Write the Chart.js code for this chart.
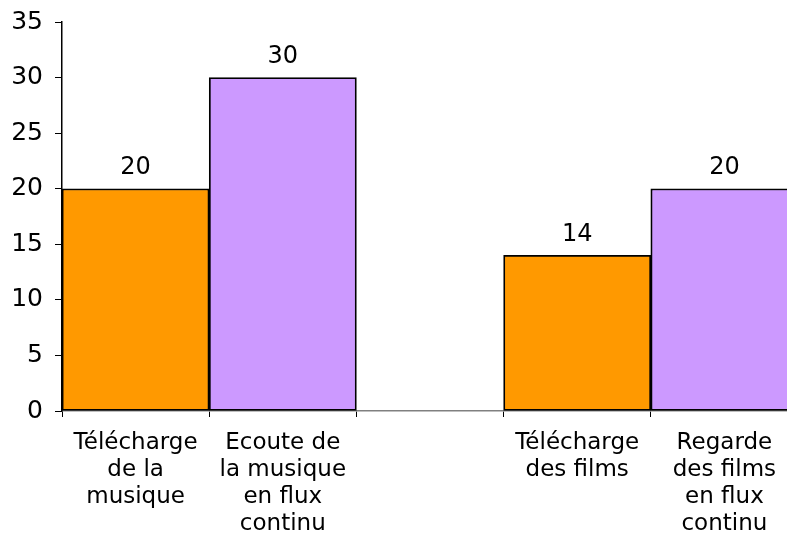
<!DOCTYPE html>
<html>
<head>
<meta charset="utf-8">
<script src="https://cdn.jsdelivr.net/npm/chart.js@4/dist/chart.umd.min.js"></script>
<style>
  html, body { margin: 0; padding: 0; background: #fff; overflow: hidden; }
  #wrap { width: 787px; height: 536px; overflow: hidden; }
  #box { width: 798px; height: 536px; position: relative; }
</style>
</head>
<body>
<div id="wrap"><div id="box"><canvas id="chart"></canvas></div></div>
<script>
const categories = [
    ['Télécharge', 'de la', 'musique'],
    ['Ecoute de', 'la musique', 'en flux', 'continu'],
    '',
    ['Télécharge', 'des films'],
    ['Regarde', 'des films', 'en flux', 'continu']
];
const values = [20, 30, null, 14, 20];
const barColors = ['#FF9900', '#CC99FF', '#FFFFFF', '#FF9900', '#CC99FF'];
const yTicks = [0, 5, 10, 15, 20, 25, 30, 35];

const FONT = '"DejaVu Sans", Verdana, sans-serif';

// draw the value above each bar
const valueLabels = {
    id: 'valueLabels',
    afterDatasetsDraw(chart) {
        const ctx = chart.ctx;
        const meta = chart.getDatasetMeta(0);
        ctx.save();
        ctx.font = '24px ' + FONT;
        ctx.fillStyle = '#000';
        ctx.textAlign = 'center';
        ctx.textBaseline = 'middle';
        meta.data.forEach((bar, i) => {
            if (values[i] == null) return;
            ctx.fillText(String(values[i]), bar.x, bar.y - 21);
        });
        ctx.restore();
    }
};

new Chart(document.getElementById('chart'), {
    type: 'bar',
    data: {
        labels: categories,
        datasets: [{
            data: values,
            backgroundColor: barColors,
            borderColor: '#000',
            borderWidth: 1.8,
            borderSkipped: false,
            categoryPercentage: 1,
            barPercentage: 1
        }]
    },
    options: {
        responsive: true,
        maintainAspectRatio: false,
        animation: false,
        layout: { padding: { top: 22, right: 0, left: 0, bottom: 0 } },
        plugins: { legend: { display: false }, tooltip: { enabled: false } },
        scales: {
            x: {
                afterFit: s => { s.height = 125; s.paddingLeft = 0; s.paddingRight = 0; },
                border: { color: '#808080', width: 1.5 },
                grid: { drawOnChartArea: false, tickLength: 6, tickColor: '#000', offset: true },
                ticks: {
                    color: '#000',
                    padding: 12,
                    maxRotation: 0,
                    autoSkip: false,
                    font: { family: FONT, size: 23, lineHeight: 1.18 }
                }
            },
            y: {
                min: 0,
                max: 35,
                afterFit: s => { s.width = 62; s.paddingTop = 0; s.paddingBottom = 0; },
                afterBuildTicks: s => { s.ticks = yTicks.map(v => ({ value: v })); },
                border: { color: '#000', width: 1.5 },
                grid: { drawOnChartArea: false, tickLength: 7, tickColor: '#000' },
                ticks: {
                    color: '#000',
                    padding: 12,
                    font: { family: FONT, size: 25 }
                }
            }
        }
    },
    plugins: [valueLabels]
});
</script>
</body>
</html>
